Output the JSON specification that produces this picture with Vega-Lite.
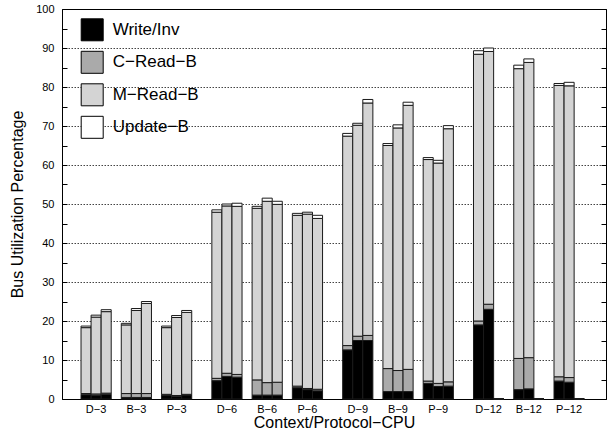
{
"$schema": "https://vega.github.io/schema/vega-lite/v6.json",
"width": 544, "height": 390,
"autosize": {"type": "none"},
"padding": {"left": 62, "top": 9, "right": 5, "bottom": 33},
"background": "white",
"view": {"stroke": "black", "strokeWidth": 1},
"config": {"font": "Liberation Sans"},
"data": {"values": [
{"g":"D−3","c":3,"b":"D1","s":"Write/Inv","k":0,"v":1.1},{"g":"D−3","c":3,"b":"D1","s":"C−Read−B","k":1,"v":0.3},{"g":"D−3","c":3,"b":"D1","s":"M−Read−B","k":2,"v":16.9},{"g":"D−3","c":3,"b":"D1","s":"Update−B","k":3,"v":0.4},
{"g":"D−3","c":3,"b":"D2","s":"Write/Inv","k":0,"v":1.0},{"g":"D−3","c":3,"b":"D2","s":"C−Read−B","k":1,"v":0.3},{"g":"D−3","c":3,"b":"D2","s":"M−Read−B","k":2,"v":19.7},{"g":"D−3","c":3,"b":"D2","s":"Update−B","k":3,"v":0.5},
{"g":"D−3","c":3,"b":"D3","s":"Write/Inv","k":0,"v":1.2},{"g":"D−3","c":3,"b":"D3","s":"C−Read−B","k":1,"v":0.3},{"g":"D−3","c":3,"b":"D3","s":"M−Read−B","k":2,"v":20.9},{"g":"D−3","c":3,"b":"D3","s":"Update−B","k":3,"v":0.5},
{"g":"B−3","c":3,"b":"B1","s":"Write/Inv","k":0,"v":0.4},{"g":"B−3","c":3,"b":"B1","s":"C−Read−B","k":1,"v":1.0},{"g":"B−3","c":3,"b":"B1","s":"M−Read−B","k":2,"v":17.6},{"g":"B−3","c":3,"b":"B1","s":"Update−B","k":3,"v":0.4},
{"g":"B−3","c":3,"b":"B2","s":"Write/Inv","k":0,"v":0.4},{"g":"B−3","c":3,"b":"B2","s":"C−Read−B","k":1,"v":1.0},{"g":"B−3","c":3,"b":"B2","s":"M−Read−B","k":2,"v":21.3},{"g":"B−3","c":3,"b":"B2","s":"Update−B","k":3,"v":0.5},
{"g":"B−3","c":3,"b":"B3","s":"Write/Inv","k":0,"v":0.4},{"g":"B−3","c":3,"b":"B3","s":"C−Read−B","k":1,"v":1.0},{"g":"B−3","c":3,"b":"B3","s":"M−Read−B","k":2,"v":23.1},{"g":"B−3","c":3,"b":"B3","s":"Update−B","k":3,"v":0.5},
{"g":"P−3","c":3,"b":"P1","s":"Write/Inv","k":0,"v":1.0},{"g":"P−3","c":3,"b":"P1","s":"C−Read−B","k":1,"v":0.2},{"g":"P−3","c":3,"b":"P1","s":"M−Read−B","k":2,"v":17.1},{"g":"P−3","c":3,"b":"P1","s":"Update−B","k":3,"v":0.4},
{"g":"P−3","c":3,"b":"P2","s":"Write/Inv","k":0,"v":0.7},{"g":"P−3","c":3,"b":"P2","s":"C−Read−B","k":1,"v":0.2},{"g":"P−3","c":3,"b":"P2","s":"M−Read−B","k":2,"v":20.0},{"g":"P−3","c":3,"b":"P2","s":"Update−B","k":3,"v":0.5},
{"g":"P−3","c":3,"b":"P3","s":"Write/Inv","k":0,"v":1.0},{"g":"P−3","c":3,"b":"P3","s":"C−Read−B","k":1,"v":0.2},{"g":"P−3","c":3,"b":"P3","s":"M−Read−B","k":2,"v":21.0},{"g":"P−3","c":3,"b":"P3","s":"Update−B","k":3,"v":0.5},
{"g":"D−6","c":6,"b":"D1","s":"Write/Inv","k":0,"v":4.7},{"g":"D−6","c":6,"b":"D1","s":"C−Read−B","k":1,"v":0.6},{"g":"D−6","c":6,"b":"D1","s":"M−Read−B","k":2,"v":42.6},{"g":"D−6","c":6,"b":"D1","s":"Update−B","k":3,"v":0.6},
{"g":"D−6","c":6,"b":"D2","s":"Write/Inv","k":0,"v":5.8},{"g":"D−6","c":6,"b":"D2","s":"C−Read−B","k":1,"v":0.8},{"g":"D−6","c":6,"b":"D2","s":"M−Read−B","k":2,"v":42.9},{"g":"D−6","c":6,"b":"D2","s":"Update−B","k":3,"v":0.5},
{"g":"D−6","c":6,"b":"D3","s":"Write/Inv","k":0,"v":5.6},{"g":"D−6","c":6,"b":"D3","s":"C−Read−B","k":1,"v":0.7},{"g":"D−6","c":6,"b":"D3","s":"M−Read−B","k":2,"v":43.1},{"g":"D−6","c":6,"b":"D3","s":"Update−B","k":3,"v":0.8},
{"g":"B−6","c":6,"b":"B1","s":"Write/Inv","k":0,"v":1.0},{"g":"B−6","c":6,"b":"B1","s":"C−Read−B","k":1,"v":3.9},{"g":"B−6","c":6,"b":"B1","s":"M−Read−B","k":2,"v":44.0},{"g":"B−6","c":6,"b":"B1","s":"Update−B","k":3,"v":0.5},
{"g":"B−6","c":6,"b":"B2","s":"Write/Inv","k":0,"v":1.0},{"g":"B−6","c":6,"b":"B2","s":"C−Read−B","k":1,"v":3.2},{"g":"B−6","c":6,"b":"B2","s":"M−Read−B","k":2,"v":46.5},{"g":"B−6","c":6,"b":"B2","s":"Update−B","k":3,"v":0.8},
{"g":"B−6","c":6,"b":"B3","s":"Write/Inv","k":0,"v":1.0},{"g":"B−6","c":6,"b":"B3","s":"C−Read−B","k":1,"v":3.3},{"g":"B−6","c":6,"b":"B3","s":"M−Read−B","k":2,"v":45.6},{"g":"B−6","c":6,"b":"B3","s":"Update−B","k":3,"v":0.8},
{"g":"P−6","c":6,"b":"P1","s":"Write/Inv","k":0,"v":2.9},{"g":"P−6","c":6,"b":"P1","s":"C−Read−B","k":1,"v":0.4},{"g":"P−6","c":6,"b":"P1","s":"M−Read−B","k":2,"v":43.8},{"g":"P−6","c":6,"b":"P1","s":"Update−B","k":3,"v":0.5},
{"g":"P−6","c":6,"b":"P2","s":"Write/Inv","k":0,"v":2.4},{"g":"P−6","c":6,"b":"P2","s":"C−Read−B","k":1,"v":0.3},{"g":"P−6","c":6,"b":"P2","s":"M−Read−B","k":2,"v":44.7},{"g":"P−6","c":6,"b":"P2","s":"Update−B","k":3,"v":0.5},
{"g":"P−6","c":6,"b":"P3","s":"Write/Inv","k":0,"v":2.1},{"g":"P−6","c":6,"b":"P3","s":"C−Read−B","k":1,"v":0.4},{"g":"P−6","c":6,"b":"P3","s":"M−Read−B","k":2,"v":43.8},{"g":"P−6","c":6,"b":"P3","s":"Update−B","k":3,"v":0.8},
{"g":"D−9","c":9,"b":"D1","s":"Write/Inv","k":0,"v":12.6},{"g":"D−9","c":9,"b":"D1","s":"C−Read−B","k":1,"v":1.1},{"g":"D−9","c":9,"b":"D1","s":"M−Read−B","k":2,"v":53.7},{"g":"D−9","c":9,"b":"D1","s":"Update−B","k":3,"v":0.7},
{"g":"D−9","c":9,"b":"D2","s":"Write/Inv","k":0,"v":15.0},{"g":"D−9","c":9,"b":"D2","s":"C−Read−B","k":1,"v":1.1},{"g":"D−9","c":9,"b":"D2","s":"M−Read−B","k":2,"v":54.1},{"g":"D−9","c":9,"b":"D2","s":"Update−B","k":3,"v":0.5},
{"g":"D−9","c":9,"b":"D3","s":"Write/Inv","k":0,"v":15.0},{"g":"D−9","c":9,"b":"D3","s":"C−Read−B","k":1,"v":1.3},{"g":"D−9","c":9,"b":"D3","s":"M−Read−B","k":2,"v":59.6},{"g":"D−9","c":9,"b":"D3","s":"Update−B","k":3,"v":0.9},
{"g":"B−9","c":9,"b":"B1","s":"Write/Inv","k":0,"v":1.9},{"g":"B−9","c":9,"b":"B1","s":"C−Read−B","k":1,"v":5.9},{"g":"B−9","c":9,"b":"B1","s":"M−Read−B","k":2,"v":57.2},{"g":"B−9","c":9,"b":"B1","s":"Update−B","k":3,"v":0.5},
{"g":"B−9","c":9,"b":"B2","s":"Write/Inv","k":0,"v":1.9},{"g":"B−9","c":9,"b":"B2","s":"C−Read−B","k":1,"v":5.4},{"g":"B−9","c":9,"b":"B2","s":"M−Read−B","k":2,"v":62.2},{"g":"B−9","c":9,"b":"B2","s":"Update−B","k":3,"v":0.8},
{"g":"B−9","c":9,"b":"B3","s":"Write/Inv","k":0,"v":1.9},{"g":"B−9","c":9,"b":"B3","s":"C−Read−B","k":1,"v":5.7},{"g":"B−9","c":9,"b":"B3","s":"M−Read−B","k":2,"v":67.7},{"g":"B−9","c":9,"b":"B3","s":"Update−B","k":3,"v":0.8},
{"g":"P−9","c":9,"b":"P1","s":"Write/Inv","k":0,"v":4.0},{"g":"P−9","c":9,"b":"P1","s":"C−Read−B","k":1,"v":0.6},{"g":"P−9","c":9,"b":"P1","s":"M−Read−B","k":2,"v":56.8},{"g":"P−9","c":9,"b":"P1","s":"Update−B","k":3,"v":0.5},
{"g":"P−9","c":9,"b":"P2","s":"Write/Inv","k":0,"v":3.2},{"g":"P−9","c":9,"b":"P2","s":"C−Read−B","k":1,"v":0.8},{"g":"P−9","c":9,"b":"P2","s":"M−Read−B","k":2,"v":56.5},{"g":"P−9","c":9,"b":"P2","s":"Update−B","k":3,"v":0.7},
{"g":"P−9","c":9,"b":"P3","s":"Write/Inv","k":0,"v":3.3},{"g":"P−9","c":9,"b":"P3","s":"C−Read−B","k":1,"v":1.1},{"g":"P−9","c":9,"b":"P3","s":"M−Read−B","k":2,"v":64.9},{"g":"P−9","c":9,"b":"P3","s":"Update−B","k":3,"v":0.8},
{"g":"D−12","c":12,"b":"D1","s":"Write/Inv","k":0,"v":19.0},{"g":"D−12","c":12,"b":"D1","s":"C−Read−B","k":1,"v":1.0},{"g":"D−12","c":12,"b":"D1","s":"M−Read−B","k":2,"v":68.4},{"g":"D−12","c":12,"b":"D1","s":"Update−B","k":3,"v":0.9},
{"g":"D−12","c":12,"b":"D2","s":"Write/Inv","k":0,"v":23.0},{"g":"D−12","c":12,"b":"D2","s":"C−Read−B","k":1,"v":1.3},{"g":"D−12","c":12,"b":"D2","s":"M−Read−B","k":2,"v":64.8},{"g":"D−12","c":12,"b":"D2","s":"Update−B","k":3,"v":0.9},
{"g":"D−12","c":12,"b":"D3","s":"Write/Inv","k":0,"v":0},{"g":"D−12","c":12,"b":"D3","s":"C−Read−B","k":1,"v":0},{"g":"D−12","c":12,"b":"D3","s":"M−Read−B","k":2,"v":0},{"g":"D−12","c":12,"b":"D3","s":"Update−B","k":3,"v":0},
{"g":"B−12","c":12,"b":"B1","s":"Write/Inv","k":0,"v":2.4},{"g":"B−12","c":12,"b":"B1","s":"C−Read−B","k":1,"v":8.0},{"g":"B−12","c":12,"b":"B1","s":"M−Read−B","k":2,"v":74.3},{"g":"B−12","c":12,"b":"B1","s":"Update−B","k":3,"v":0.9},
{"g":"B−12","c":12,"b":"B2","s":"Write/Inv","k":0,"v":2.6},{"g":"B−12","c":12,"b":"B2","s":"C−Read−B","k":1,"v":8.0},{"g":"B−12","c":12,"b":"B2","s":"M−Read−B","k":2,"v":75.7},{"g":"B−12","c":12,"b":"B2","s":"Update−B","k":3,"v":0.9},
{"g":"B−12","c":12,"b":"B3","s":"Write/Inv","k":0,"v":0},{"g":"B−12","c":12,"b":"B3","s":"C−Read−B","k":1,"v":0},{"g":"B−12","c":12,"b":"B3","s":"M−Read−B","k":2,"v":0},{"g":"B−12","c":12,"b":"B3","s":"Update−B","k":3,"v":0},
{"g":"P−12","c":12,"b":"P1","s":"Write/Inv","k":0,"v":4.6},{"g":"P−12","c":12,"b":"P1","s":"C−Read−B","k":1,"v":1.1},{"g":"P−12","c":12,"b":"P1","s":"M−Read−B","k":2,"v":74.7},{"g":"P−12","c":12,"b":"P1","s":"Update−B","k":3,"v":0.5},
{"g":"P−12","c":12,"b":"P2","s":"Write/Inv","k":0,"v":4.3},{"g":"P−12","c":12,"b":"P2","s":"C−Read−B","k":1,"v":1.2},{"g":"P−12","c":12,"b":"P2","s":"M−Read−B","k":2,"v":74.8},{"g":"P−12","c":12,"b":"P2","s":"Update−B","k":3,"v":0.9},
{"g":"P−12","c":12,"b":"P3","s":"Write/Inv","k":0,"v":0},{"g":"P−12","c":12,"b":"P3","s":"C−Read−B","k":1,"v":0},{"g":"P−12","c":12,"b":"P3","s":"M−Read−B","k":2,"v":0},{"g":"P−12","c":12,"b":"P3","s":"Update−B","k":3,"v":0}
]},
"layer": [
{
"mark": {"type": "bar", "stroke": "#1a1a1a", "strokeWidth": 1},
"encoding": {
"x": {"field": "c", "type": "ordinal",
 "scale": {"domain": [3,6,9,12], "paddingInner": 0.1538, "paddingOuter": 0.156, "align": 0.466},
 "axis": {"labels": false, "ticks": false, "domain": false, "title": "Context/Protocol−CPU", "titleFontSize": 16, "titleFontWeight": "normal", "titlePadding": 15, "titleColor": "black", "titleFont": "Liberation Sans"}},
"xOffset": {"field": "b", "type": "nominal",
 "scale": {"domain": ["D1","D2","D3","g1","B1","B2","B3","g2","P1","P2","P3"], "paddingInner": 0, "paddingOuter": 0}},
"y": {"field": "v", "type": "quantitative", "stack": "zero",
 "scale": {"domain": [0,100], "nice": false, "zero": true},
 "axis": {"orient": "left", "values": [0,5,10,15,20,25,30,35,40,45,50,55,60,65,70,75,80,85,90,95,100],
  "tickSize": -5, "tickColor": "black", "domainColor": "black",
  "labelExpr": "datum.value % 10 === 0 ? datum.label : ''",
  "labelFontSize": 11, "labelColor": "black", "labelPadding": 13, "labelFlush": false, "labelOverlap": false, "labelBound": false,
  "labelFont": "Liberation Sans",
  "grid": true, "gridColor": "#444444", "gridDash": [1.5, 1.5], "gridWidth": 1,
  "gridOpacity": {"condition": {"test": "datum.value % 10 !== 0 || datum.value === 0 || datum.value === 100", "value": 0}, "value": 1},
  "title": "Bus Utilization Percentage", "titleFontSize": 16, "titleFontWeight": "normal", "titleColor": "black", "titlePadding": 10, "titleFont": "Liberation Sans"}},
"color": {"field": "s", "type": "nominal",
 "scale": {"domain": ["Write/Inv","C−Read−B","M−Read−B","Update−B"], "range": ["#000000","#aaaaaa","#d4d4d4","#ffffff"]},
 "legend": {"orient": "none", "legendX": 18.7, "legendY": 9.3, "title": null, "padding": 0,
  "labelFontSize": 17, "labelFont": "Liberation Sans", "labelColor": "black", "labelOffset": 9, "rowPadding": 5.5,
  "symbolType": "square", "symbolSize": 484, "symbolStrokeColor": "black", "symbolStrokeWidth": 1, "symbolOpacity": 1}},
"order": {"field": "k", "type": "quantitative"}
}
},
{
"transform": [{"filter": "datum.k === 0 && indexof(['D2','B2','P2'], datum.b) >= 0"}],
"mark": {"type": "text", "baseline": "top", "dy": 5, "fontSize": 11, "color": "black", "font": "Liberation Sans"},
"encoding": {
"x": {"field": "c", "type": "ordinal", "axis": null},
"xOffset": {"field": "b", "type": "nominal"},
"y": {"datum": 0, "type": "quantitative",
 "axis": {"orient": "right", "values": [0,5,10,15,20,25,30,35,40,45,50,55,60,65,70,75,80,85,90,95,100],
  "tickSize": -5, "tickColor": "black", "domainColor": "black", "labels": false, "grid": false, "title": null}},
"text": {"field": "g"}
}
}
],
"resolve": {"axis": {"y": "independent", "x": "independent"}}
}
